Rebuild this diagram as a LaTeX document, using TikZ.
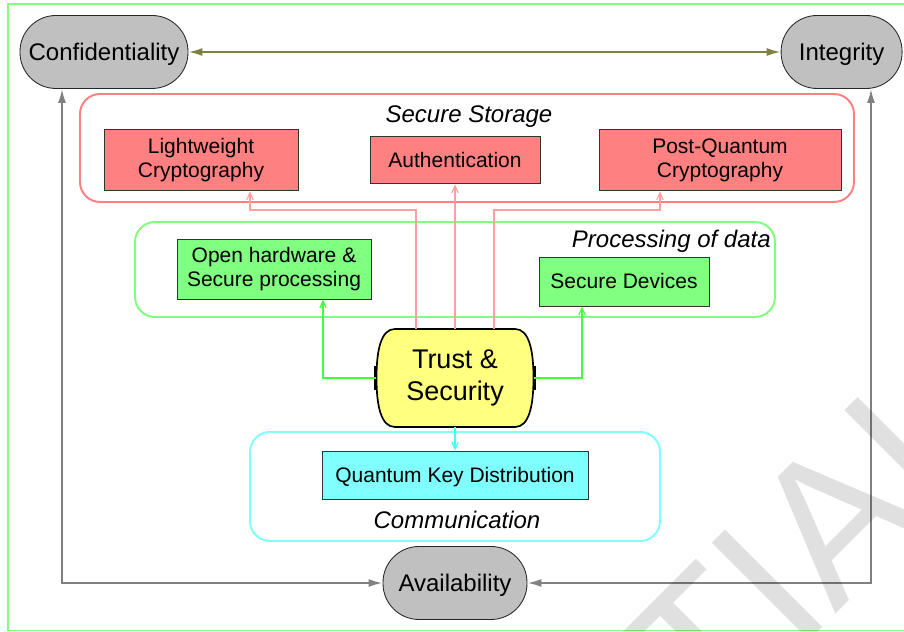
\documentclass[tikz,border=0pt]{standalone}
\usepackage{fontspec}
\setmainfont{Liberation Sans}
\usetikzlibrary{arrows.meta,calc}
\definecolor{goalgray}{HTML}{C0C0C0}
\definecolor{storered}{HTML}{FF8080}
\definecolor{procgreen}{HTML}{80FF80}
\definecolor{commcyan}{HTML}{80FFFF}
\definecolor{trustyellow}{HTML}{FFFF80}
\definecolor{linkred}{HTML}{FFA0A0}
\definecolor{linkgreen}{HTML}{40FF40}
\definecolor{linkcyan}{HTML}{40FFFF}
\definecolor{pairolive}{HTML}{808040}
\definecolor{pairgray}{HTML}{808080}
\tikzset{
  goal/.style={draw=black!85,line width=0.6pt,fill=goalgray,rounded corners=0.9cm,minimum height=1.825cm,inner sep=0pt,text depth=0pt,font=\fontsize{17.07}{20}\selectfont},
  item/.style={draw=black!80,line width=0.6pt,align=center,inner sep=0pt,font=\fontsize{14.94}{17.07}\selectfont},
  area/.style={line width=1.4pt,rounded corners=0.5cm},
  title/.style={inner sep=0pt,anchor=base,font=\fontsize{17.07}{20}\selectfont\itshape},
  link/.style={-{Straight Barb[length=0.18cm,width=0.16cm]},line width=0.8pt},
  pair/.style={{Latex[length=0.35cm,width=0.2cm]}-{Latex[length=0.35cm,width=0.2cm]},line width=1.4pt}
}

\begin{document}
\begin{tikzpicture}
  \useasboundingbox (0,0) rectangle (22.6,15.8);
  \draw[procgreen,line width=1.4pt] (0.2,0.0375) rectangle (22.7,15.7);

  \node[goal,minimum width=4.2cm] (C) at (2.6,14.5) {Confidentiality};
  \node[goal,minimum width=3.025cm] (I) at (21.04,14.5) {Integrity};
  \node[goal,minimum width=3.6cm] (A) at (11.375,1.225) {Availability};

  \draw[area,draw=storered] (2.0,10.75) rectangle (21.35,13.45);
  \node[title] (S) at (11.725,12.7375) {Secure Storage};
  \draw[area,draw=procgreen] (3.375,7.875) rectangle (19.375,10.25);
  \node[title,anchor=base east] (P) at (19.275,9.6) {Processing of data};
  \draw[area,draw=commcyan] (6.25,2.275) rectangle (16.5,5.0);
  \node[title] (M) at (11.425,2.575) {Communication};

  \node[item,fill=storered,minimum width=4.85cm,minimum height=1.525cm] (LC) at (5.025,11.79) {Lightweight\\Cryptography};
  \node[item,fill=storered,minimum width=4.25cm,minimum height=1.175cm] (AU) at (11.375,11.79) {Authentication};
  \node[item,fill=storered,minimum width=6.05cm,minimum height=1.525cm] (PQ) at (18.0,11.79) {Post-Quantum\\Cryptography};
  \node[item,fill=procgreen,minimum width=4.85cm,minimum height=1.5cm] (OH) at (6.85,9.075) {Open hardware \&\\Secure processing};
  \node[item,fill=procgreen,minimum width=4.25cm,minimum height=1.225cm] (SD) at (15.6,8.7625) {Secure Devices};
  \node[item,fill=commcyan,text depth=0pt,minimum width=6.65cm,minimum height=1.2cm] (Q) at (11.375,3.925) {Quantum Key Distribution};

  \coordinate (TC) at (11.375,6.35);
  \begin{scope}[shift={(TC)}]
    \draw[line width=1.2pt,fill=trustyellow] (-1.5,1.225) -- (1.5,1.225)
      .. controls (1.85,1.225) and (1.9625,0.7) .. (1.9625,0)
      .. controls (1.9625,-0.7) and (1.85,-1.225) .. (1.5,-1.225)
      -- (-1.5,-1.225)
      .. controls (-1.85,-1.225) and (-1.9625,-0.7) .. (-1.9625,0)
      .. controls (-1.9625,0.7) and (-1.85,1.225) .. (-1.5,1.225) -- cycle;
  \end{scope}
  \node[align=center,inner sep=0pt,minimum width=3.925cm,minimum height=2.45cm,font=\fontsize{19.2}{22.8}\selectfont] (T) at (TC) {Trust \&\\Security};
  \fill (T.west) ++(-0.06,-0.3) rectangle ++(0.09,0.6);
  \fill (T.east) ++(-0.03,-0.3) rectangle ++(0.09,0.6);

  \coordinate (r1) at (10.4,10.55);
  \coordinate (r2) at (12.35,10.55);
  \draw[link,draw=linkred] (T.north -| r1) -- (r1) -| ([xshift=1.225cm]LC.south);
  \draw[link,draw=linkred] (T.north) -- (AU.south);
  \draw[link,draw=linkred] (T.north -| r2) -- (r2) -| ([xshift=-1.5cm]PQ.south);
  \draw[link,draw=linkgreen] (T.west) -| ([xshift=1.225cm]OH.south);
  \draw[link,draw=linkgreen] (T.east) -| ([xshift=-1.05cm]SD.south);
  \draw[link,draw=linkcyan] (T.south) -- (Q.north);

  \coordinate (gl) at (1.55,1.225);
  \coordinate (gr) at (21.775,1.225);
  \draw[pair,draw=pairolive] (C.east) -- (I.west);
  \draw[pair,draw=pairgray] (C.south -| gl) |- (A.west);
  \draw[pair,draw=pairgray] (I.south -| gr) |- (A.east);

  \begin{scope}
    \clip (0,0) rectangle (22.6,15.8);
    \node[anchor=base west,rotate=45,inner sep=0pt,text=black,opacity=0.12,font=\fontsize{142.26}{150}\selectfont] (W) at (17.75,-2.7) {TIAL};
  \end{scope}
\end{tikzpicture}
\end{document}
